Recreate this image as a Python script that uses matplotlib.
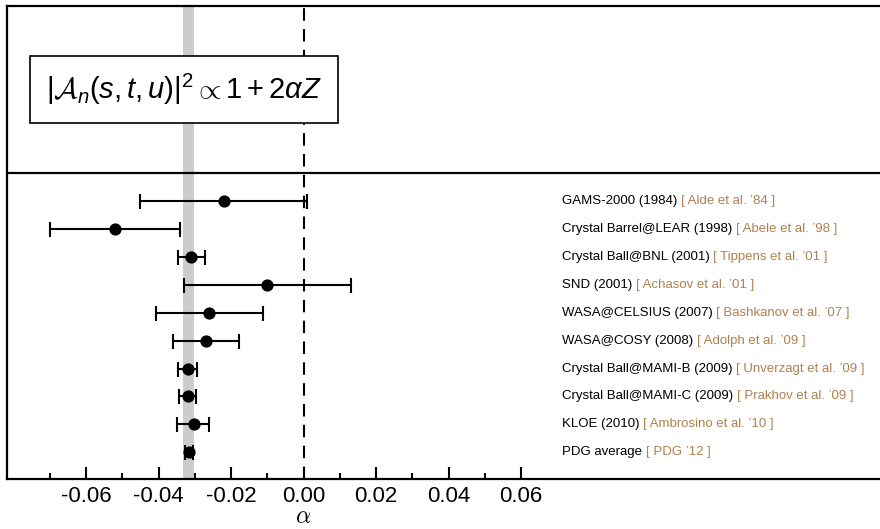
import matplotlib
matplotlib.use("Agg")
import matplotlib.pyplot as plt
import numpy as np

# ---- data ----
experiments = ["GAMS-2000 (1984)", "Crystal Barrel@LEAR (1998)", "Crystal Ball@BNL (2001)",
               "SND (2001)", "WASA@CELSIUS (2007)", "WASA@COSY (2008)",
               "Crystal Ball@MAMI-B (2009)", "Crystal Ball@MAMI-C (2009)", "KLOE (2010)",
               "PDG average"]
references = ["[ Alde et al. \u201984 ]", "[ Abele et al. \u201998 ]", "[ Tippens et al. \u201901 ]",
              "[ Achasov et al. \u201901 ]", "[ Bashkanov et al. \u201907 ]", "[ Adolph et al. \u201909 ]",
              "[ Unverzagt et al. \u201909 ]", "[ Prakhov et al. \u201909 ]", "[ Ambrosino et al. \u201910 ]",
              "[ PDG \u201912 ]"]
alpha_val = [-0.022, -0.052, -0.031, -0.010, -0.026, -0.027, -0.032, -0.032, -0.0302, -0.0316]
err_low = [0.023, 0.018, 0.0037, 0.023, 0.0147, 0.0091, 0.0026, 0.0024, 0.0047, 0.0012]
err_high = [0.023, 0.018, 0.0037, 0.023, 0.0147, 0.0091, 0.0026, 0.0024, 0.0041, 0.0012]
band_low, band_high = -0.0333, -0.0302
major_ticks = [-0.06, -0.04, -0.02, 0.00, 0.02, 0.04, 0.06]
major_labels = ["-0.06", "-0.04", "-0.02", "0.00", "0.02", "0.04", "0.06"]
minor_ticks = [-0.07, -0.05, -0.03, -0.01, 0.01, 0.03, 0.05]

plt.rcParams['font.family'] = ['Liberation Sans', 'DejaVu Sans']
plt.rcParams['mathtext.rm'] = 'Liberation Sans'
plt.rcParams['mathtext.it'] = 'Liberation Sans:italic'
plt.rcParams['mathtext.cal'] = 'cmsy10'
plt.rcParams['mathtext.fallback'] = 'cm'

fig = plt.figure(figsize=(8.8, 5.29), dpi=100)
ax = fig.add_axes([7 / 880, 50 / 529, (884 - 7) / 880, 473 / 529])

n = len(experiments)
ypos = np.arange(n, 0, -1)

ax.set_xlim(-0.0818, 0.1601)
ax.set_ylim(0.044, 16.985)

ax.axvspan(band_low, band_high, color='#cccccc', lw=0, zorder=1)
ax.axvline(0.0, color='black', lw=1.5, linestyle=(0, (6, 4)), zorder=2)
ax.axhline(11.0, color='black', lw=1.6, zorder=3)

ax.errorbar(alpha_val, ypos, xerr=[err_low, err_high], fmt='o', color='black',
            markersize=7.8, elinewidth=1.5, capsize=5.4, capthick=1.5, zorder=4)

for y, lab, ref in zip(ypos, experiments, references):
    t = ax.text(0.0713, y, lab + " ", fontsize=9.5, color='black', va='center', ha='left')
    ax.annotate(ref, xy=(1, 0), xycoords=t, fontsize=9.5, color='#b08050',
                va='bottom', ha='left')

eq_size = 21
ax.text(-0.0331, 14.0, r'$|\mathcal{A}_n(s,t,u)|^2 \propto 1 + 2\alpha Z$',
        fontsize=eq_size, math_fontfamily='custom', ha='center', va='center', zorder=5,
        bbox=dict(boxstyle='square,pad=%.3f' % (11.5 / eq_size), fc='white', ec='black', lw=1.2))

for s in ['left', 'top', 'bottom']:
    ax.spines[s].set_linewidth(1.6)
ax.spines['right'].set_visible(False)

ax.set_yticks([])
ax.set_xticks(major_ticks)
ax.set_xticklabels(major_labels)
ax.set_xticks(minor_ticks, minor=True)
ax.tick_params(axis='x', which='major', direction='in', length=8.6, width=1.5,
               labelsize=16, pad=5)
ax.tick_params(axis='x', which='minor', direction='in', length=4.3, width=1.5)

fig.text(303.5 / 880, 1 - 523 / 529, r'$\alpha$', fontsize=17, math_fontfamily='cm',
         ha='center', va='baseline')

fig.savefig("out.png", dpi=100)
